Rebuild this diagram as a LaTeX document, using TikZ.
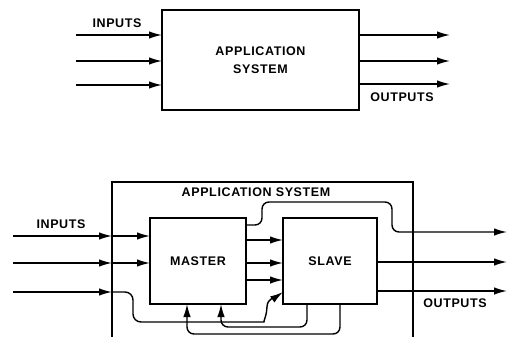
\documentclass[tikz,border=0pt]{standalone}
\usepackage{fontspec}
\setmainfont{Liberation Sans}[LetterSpace=5]
\usetikzlibrary{arrows.meta}
\tikzset{
  ln/.style={line width=1.4pt},
  arr/.style={ln, -{Latex[length=13pt,width=7.5pt]}},
  box/.style={draw, line width=1.4pt, inner sep=0pt, outer sep=0pt},
  lbl/.style={font=\bfseries\fontsize{12.5}{18.5}\selectfont, inner sep=0pt, align=center},
}
\begin{document}
\begin{tikzpicture}[x=1pt, y=-1pt]
\useasboundingbox (0,0) rectangle (511,337);
% ---------- top diagram ----------
\node[box, lbl, minimum width=197pt, minimum height=100pt] (sys) at (260.5,60) {APPLICATION\\SYSTEM};
\coordinate (ti1) at (76,35);
\coordinate (ti2) at (76,61);
\coordinate (ti3) at (76,85);
\coordinate (to1) at (450,35);
\coordinate (to2) at (450,61);
\coordinate (to3) at (450,84);
\draw[arr] (ti1) -- (ti1 -| sys.west);
\draw[arr] (ti2) -- (ti2 -| sys.west);
\draw[arr] (ti3) -- (ti3 -| sys.west);
\draw[arr] (to1 -| sys.east) -- (to1);
\draw[arr] (to2 -| sys.east) -- (to2);
\draw[arr] (to3 -| sys.east) -- (to3);
\node[lbl] (tin) at (117,23) {INPUTS};
\node[lbl] (tout) at (402,97) {OUTPUTS};
% ---------- bottom diagram ----------
\coordinate (obl) at (112,337);
\coordinate (obt) at (413,182);
\coordinate (obr) at (413,337);
\draw[ln] (obl) |- (obt) -- (obr);
\node[lbl] (btitle) at (256,192) {APPLICATION SYSTEM};
\node[box, lbl, minimum width=96pt, minimum height=86pt] (master) at (198,261) {MASTER};
\node[box, lbl, minimum width=94pt, minimum height=86pt] (slave) at (330,261) {SLAVE};
\node[lbl] (bin) at (61,224) {INPUTS};
\node[lbl] (bout) at (455,303) {OUTPUTS};
% inputs
\coordinate (bi1) at (13,236);
\coordinate (bi2) at (13,263);
\coordinate (bi3) at (13,292);
\coordinate (wl) at (112,0);
\draw[arr] (bi1) -- (bi1 -| wl);
\draw[arr] (bi1 -| wl) -- (bi1 -| master.west);
\draw[arr] (bi2) -- (bi2 -| wl);
\draw[arr] (bi2 -| wl) -- (bi2 -| master.west);
\draw[arr] (bi3) -- (bi3 -| wl);
\coordinate (r1) at (133,292);
\coordinate (r2) at (133,322);
\coordinate (r3) at (256,322);
\coordinate (r4) at (267,307);
\draw[arr, rounded corners=8pt] (bi3 -| wl) -- (r1) -- (r2) -- (r3) [sharp corners] to[out=0,in=-90] (r4) to[out=90,in=215] (slave.west |- bi3);
% master -> slave
\coordinate (y225) at (0,225);
\coordinate (y240) at (0,240);
\coordinate (y263) at (0,263);
\coordinate (y280) at (0,280);
\draw[arr] (master.east |- y240) -- (slave.west |- y240);
\draw[arr] (master.east |- y263) -- (slave.west |- y263);
\draw[arr] (master.east |- y280) -- (slave.west |- y280);
% master top output over slave
\coordinate (u1) at (262,225);
\coordinate (u2) at (262,202);
\coordinate (u3) at (392,202);
\coordinate (u4) at (392,232);
\coordinate (bo1) at (507,232);
\coordinate (bo2) at (507,262);
\coordinate (bo3) at (507,291);
\draw[arr, rounded corners=7pt] (master.east |- y225) -- (u1) -- (u2) -- (u3) -- (u4) -- (bo1);
\draw[arr] (slave.east |- bo2) -- (bo2);
\draw[arr] (slave.east |- bo3) -- (bo3);
% feedback
\coordinate (f1a) at (307,327);
\coordinate (f1b) at (221,327);
\coordinate (f2a) at (340,334);
\coordinate (f2b) at (187,334);
\draw[arr, rounded corners=7pt] (slave.south -| f1a) -- (f1a) -- (f1b) -- (master.south -| f1b);
\draw[arr, rounded corners=7pt] (slave.south -| f2a) -- (f2a) -- (f2b) -- (master.south -| f2b);
\end{tikzpicture}
\end{document}
